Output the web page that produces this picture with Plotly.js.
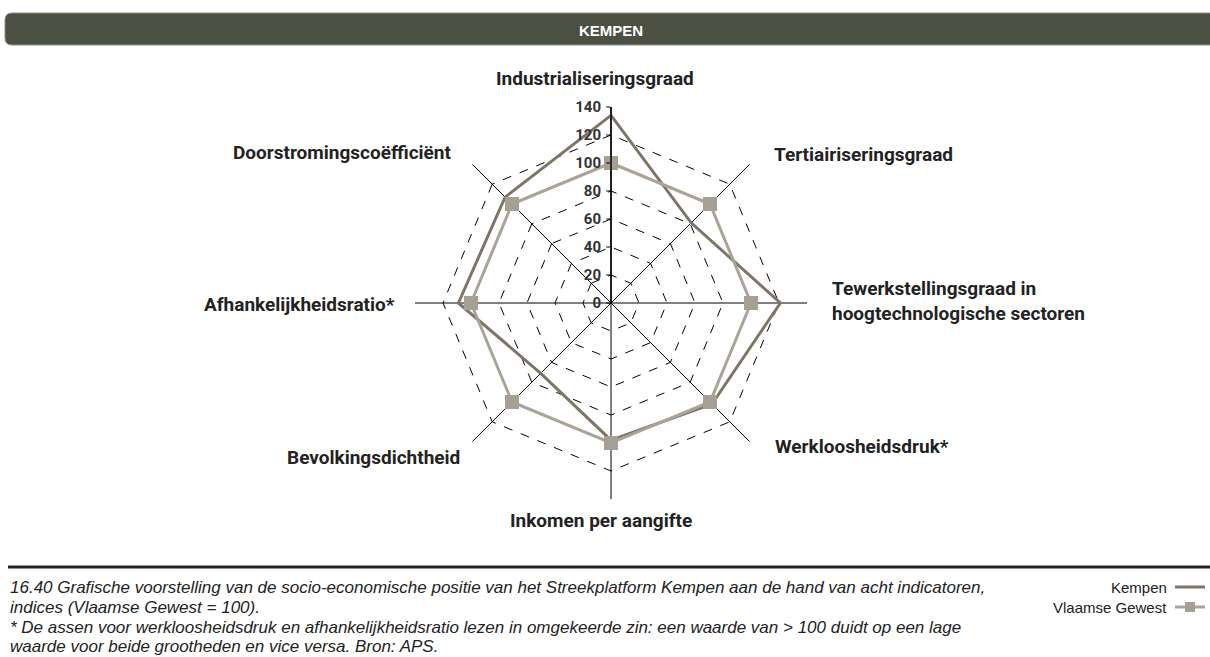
<!DOCTYPE html>
<html>
<head>
<meta charset="utf-8">
<script src="https://cdn.plot.ly/plotly-3.0.1.min.js"></script>
<style>
  html, body { margin: 0; padding: 0; background: #fff; }
  #chart { width: 1210px; height: 657px; }
</style>
</head>
<body>
<div id="chart"></div>
<script>
// indicators, clockwise from the top
let indicators = [
  "Industrialiseringsgraad",
  "Tertiairiseringsgraad",
  "Tewerkstellingsgraad in<br>hoogtechnologische sectoren",
  "Werkloosheidsdruk*",
  "Inkomen per aangifte",
  "Bevolkingsdichtheid",
  "Afhankelijkheidsratio*",
  "Doorstromingscoëfficiënt"
];

// index values (Vlaamse Gewest = 100)
let kempen = [134, 81, 121, 102, 98, 71, 109, 107];
let vlaamsGewest = [100, 100, 100, 100, 100, 100, 100, 100];

let radialTicks = [0, 20, 40, 60, 80, 100, 120, 140];

// where each indicator name sits around the web (pixels)
let labelX = [595, 772, 830, 773, 601, 462, 397, 453];
let labelY = [79, 154, 301, 446, 520, 457, 304, 152];
let labelAnchor = ["center", "left", "left", "left", "center", "right", "right", "right"];

// close the polygons
let cats = indicators.concat([indicators[0]]);
let kempenClosed = kempen.concat([kempen[0]]);
let vlaamsClosed = vlaamsGewest.concat([vlaamsGewest[0]]);

const W = 1210, H = 657;
function px(x) { return x / W; }
function py(y) { return 1 - y / H; }

let trace1 = {
  type: "scatterpolar",
  r: kempenClosed,
  theta: cats,
  mode: "lines",
  name: "Kempen",
  line: { color: "#7d7668", width: 3 },
  showlegend: false
};

let trace2 = {
  type: "scatterpolar",
  r: vlaamsClosed,
  theta: cats,
  mode: "lines+markers",
  name: "Vlaamse Gewest",
  line: { color: "#aaa398", width: 3 },
  marker: { symbol: "square", size: 14, color: "#a69f94" },
  showlegend: false
};

var data = [trace1, trace2];

// title bar with rounded left corners
let bx0 = 5, bx1 = 1212, by0 = 13, by1 = 45, rad = 7;
let barPath = "M " + px(bx0 + rad) + "," + py(by0) +
  " L " + px(bx1) + "," + py(by0) +
  " L " + px(bx1) + "," + py(by1) +
  " L " + px(bx0 + rad) + "," + py(by1) +
  " Q " + px(bx0) + "," + py(by1) + " " + px(bx0) + "," + py(by1 - rad) +
  " L " + px(bx0) + "," + py(by0 + rad) +
  " Q " + px(bx0) + "," + py(by0) + " " + px(bx0 + rad) + "," + py(by0) + " Z";

let captionFont = { family: "Liberation Sans, Arial", size: 17, color: "#222" };
let legendFont = { family: "Liberation Sans, Arial", size: 15, color: "#222" };
let labelFont = { family: "Roboto, Liberation Sans, Arial", size: 19, color: "#222", weight: "bold" };

function note(text, x, y, xanchor, font) {
  return { text: text, xref: "paper", yref: "paper", x: px(x), y: py(y),
    xanchor: xanchor, yanchor: "middle", align: xanchor === "center" ? "center" : xanchor,
    showarrow: false, font: font };
}

let annotations = [
  note("<b>KEMPEN</b>", 611, 30, "center", { family: "Liberation Sans, Arial", size: 15, color: "#fff" }),
  note("<i>16.40 Grafische voorstelling van de socio-economische positie van het Streekplatform Kempen aan de hand van acht indicatoren,</i>", 8, 587, "left", captionFont),
  note("<i>indices (Vlaamse Gewest = 100).</i>", 8, 607, "left", captionFont),
  note("<i>* De assen voor werkloosheidsdruk en afhankelijkheidsratio lezen in omgekeerde zin: een waarde van > 100 duidt op een lage</i>", 8, 627, "left", captionFont),
  note("<i>waarde voor beide grootheden en vice versa. Bron: APS.</i>", 8, 646, "left", captionFont),
  note("Kempen", 1169, 587, "right", legendFont),
  note("Vlaamse Gewest", 1169, 607, "right", legendFont)
];
indicators.forEach(function (name, i) {
  annotations.push(note(name, labelX[i], labelY[i], labelAnchor[i], labelFont));
});

var layout = {
  width: W,
  height: H,
  margin: { l: 0, r: 0, t: 0, b: 0 },
  paper_bgcolor: "#fff",
  showlegend: false,
  font: { family: "Liberation Sans, Arial, sans-serif", color: "#222" },
  polar: {
    domain: { x: [px(415), px(807)], y: [py(499), py(107)] },
    bgcolor: "rgba(0,0,0,0)",
    gridshape: "linear",
    radialaxis: {
      range: [0, 140],
      tickvals: radialTicks,
      angle: 90,
      side: "counterclockwise",
      tickangle: 90,
      showline: true,
      linecolor: "#000",
      linewidth: 1.5,
      gridcolor: "#000",
      griddash: "dash",
      gridwidth: 1,
      ticks: "outside",
      ticklen: 4,
      tickcolor: "#000",
      tickfont: { family: "Roboto, Liberation Sans, Arial", size: 15, color: "#333", weight: "bold" }
    },
    angularaxis: {
      rotation: 90,
      direction: "clockwise",
      showline: false,
      showticklabels: false,
      ticks: "",
      gridcolor: "#000",
      gridwidth: 1
    }
  },
  shapes: [
    { type: "path", xref: "paper", yref: "paper", path: barPath,
      fillcolor: "#4b5042", line: { color: "#8a8d85", width: 1 } },
    { type: "line", xref: "paper", yref: "paper",
      x0: px(8), x1: px(1212), y0: py(567), y1: py(567),
      line: { color: "#222", width: 3 } },
    // legend keys
    { type: "line", xref: "paper", yref: "paper",
      x0: px(1175), x1: px(1205), y0: py(587), y1: py(587),
      line: { color: "#7d7668", width: 3 } },
    { type: "line", xref: "paper", yref: "paper",
      x0: px(1175), x1: px(1205), y0: py(607), y1: py(607),
      line: { color: "#aaa398", width: 3 } },
    { type: "rect", xref: "paper", yref: "paper",
      x0: px(1185), x1: px(1195), y0: py(602), y1: py(612),
      fillcolor: "#a69f94", line: { width: 0 } }
  ],
  annotations: annotations
};

Plotly.newPlot("chart", data, layout, { displayModeBar: false, staticPlot: true });
</script>
</body>
</html>
